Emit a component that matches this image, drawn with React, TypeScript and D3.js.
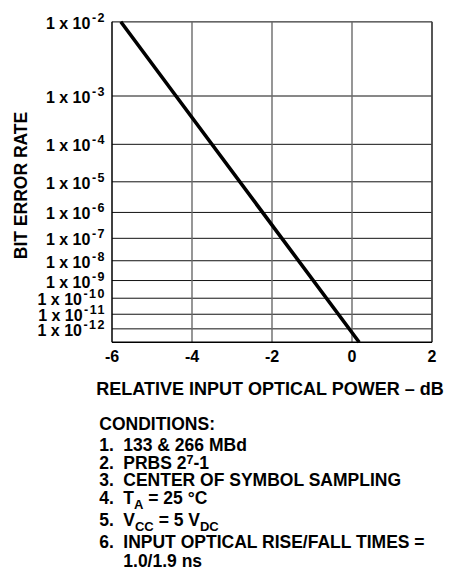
import React from "react";
import * as d3 from "d3";

// ---- data ----
const powerTicks = [-6, -4, -2, 0, 2];
const berExponents = [-2, -3, -4, -5, -6, -7, -8, -9, -10, -11, -12];
const curvePower = [-5.78, -4.4, 0.18];
const curveBer = [1e-2, 1e-3, 1e-13];

type Seg = { t: string; sub?: boolean; sup?: boolean };
const conditionNumbers = ["1.", "2.", "3.", "4.", "5.", "6.", ""];
const conditionTexts: Seg[][] = [
  [{ t: "133 & 266 MBd" }],
  [{ t: "PRBS 2" }, { t: "7", sup: true }, { t: "-1" }],
  [{ t: "CENTER OF SYMBOL SAMPLING" }],
  [{ t: "T" }, { t: "A", sub: true }, { t: " = 25 °C" }],
  [{ t: "V" }, { t: "CC", sub: true }, { t: " = 5 V" }, { t: "DC", sub: true }],
  [{ t: "INPUT OPTICAL RISE/FALL TIMES =" }],
  [{ t: "1.0/1.9 ns" }],
];

const FONT = "'Liberation Sans', Arial, Helvetica, sans-serif";

const loglog = (b: number) => Math.log10(-Math.log10(b));

export default function App() {
  const W = 457;
  const H = 575;
  const left = 112;
  const right = 432;
  const top = 21.7;
  const bottom = 342.3;

  const x = d3.scaleLinear().domain([-6, 2]).range([left, right]);
  const y = d3
    .scaleLinear()
    .domain([loglog(1e-2), loglog(1e-3), loglog(1e-13)])
    .range([top, 96, bottom]);

  const line = d3
    .line<number>()
    .x((_, i) => x(curvePower[i]))
    .y((_, i) => y(loglog(curveBer[i])));

  const condBaselines = [451, 468.5, 486, 504.3, 526, 547.7, 566.7];

  const renderSegs = (segs: Seg[], fs: number) => {
    const out: React.ReactNode[] = [];
    let shift = 0;
    segs.forEach((s, i) => {
      let target = 0;
      let size = fs;
      if (s.sub) {
        target = 5;
        size = 13;
      } else if (s.sup) {
        target = -4.5;
        size = 12.5;
      }
      const dy = target - shift;
      shift = target;
      out.push(
        <tspan key={i} dy={dy} fontSize={size}>
          {s.t}
        </tspan>
      );
    });
    return out;
  };

  return (
    <svg
      width={W}
      height={H}
      style={{ position: "absolute", left: 0, top: 0, background: "#fff" }}
      fontFamily={FONT}
      fontWeight="bold"
    >
      <rect x={0} y={0} width={W} height={H} fill="#fff" />
      {/* horizontal grid */}
      {berExponents.map((e) => (
        <line
          key={"h" + e}
          x1={left}
          x2={right}
          y1={y(loglog(Math.pow(10, e)))}
          y2={y(loglog(Math.pow(10, e)))}
          stroke="#111"
          strokeWidth={1}
        />
      ))}
      {/* vertical grid */}
      {powerTicks.slice(1, -1).map((p) => (
        <line
          key={"v" + p}
          x1={x(p)}
          x2={x(p)}
          y1={top}
          y2={bottom}
          stroke="#6a6a6a"
          strokeWidth={1.4}
        />
      ))}
      {/* border */}
      <line x1={left} x2={right} y1={top} y2={top} stroke="#666" strokeWidth={1.6} />
      <line x1={right} x2={right} y1={top} y2={bottom} stroke="#444" strokeWidth={1.8} />
      <line x1={left} x2={left} y1={top} y2={bottom} stroke="#000" strokeWidth={1.5} />
      <line x1={left} x2={right} y1={bottom} y2={bottom} stroke="#000" strokeWidth={1.5} />

      {/* curve */}
      <path d={line(curvePower) || ""} fill="none" stroke="#000" strokeWidth={3.6} />

      {/* y tick labels */}
      {berExponents.map((e) => (
        <text
          key={"yl" + e}
          x={106}
          y={y(loglog(Math.pow(10, e))) + 7}
          textAnchor="end"
          fontSize={16}
          fill="#000"
        >
          <tspan>1 x 10</tspan>
          <tspan dy={-7} dx={1.5} fontSize={12.5} letterSpacing={1.5}>
            {String(e)}
          </tspan>
        </text>
      ))}

      {/* x tick labels */}
      {powerTicks.map((p) => (
        <text key={"xl" + p} x={x(p)} y={362} textAnchor="middle" fontSize={16} fill="#000">
          {String(p)}
        </text>
      ))}

      {/* axis titles */}
      <text
        transform={`translate(26.7,185.5) rotate(-90)`}
        textAnchor="middle"
        fontSize={17.5}
        fill="#000"
      >
        BIT ERROR RATE
      </text>
      <text x={270} y={395} textAnchor="middle" fontSize={18} fill="#000">
        RELATIVE INPUT OPTICAL POWER – dB
      </text>

      {/* conditions */}
      <text x={99.3} y={430} fontSize={17.5} fill="#000">
        CONDITIONS:
      </text>
      {conditionTexts.map((segs, i) => (
        <g key={"c" + i}>
          {conditionNumbers[i] && (
            <text x={99.3} y={condBaselines[i]} fontSize={17.5} fill="#000">
              {conditionNumbers[i]}
            </text>
          )}
          <text x={123.3} y={condBaselines[i]} fontSize={17.5} fill="#000">
            {renderSegs(segs, 17.5)}
          </text>
        </g>
      ))}
    </svg>
  );
}
